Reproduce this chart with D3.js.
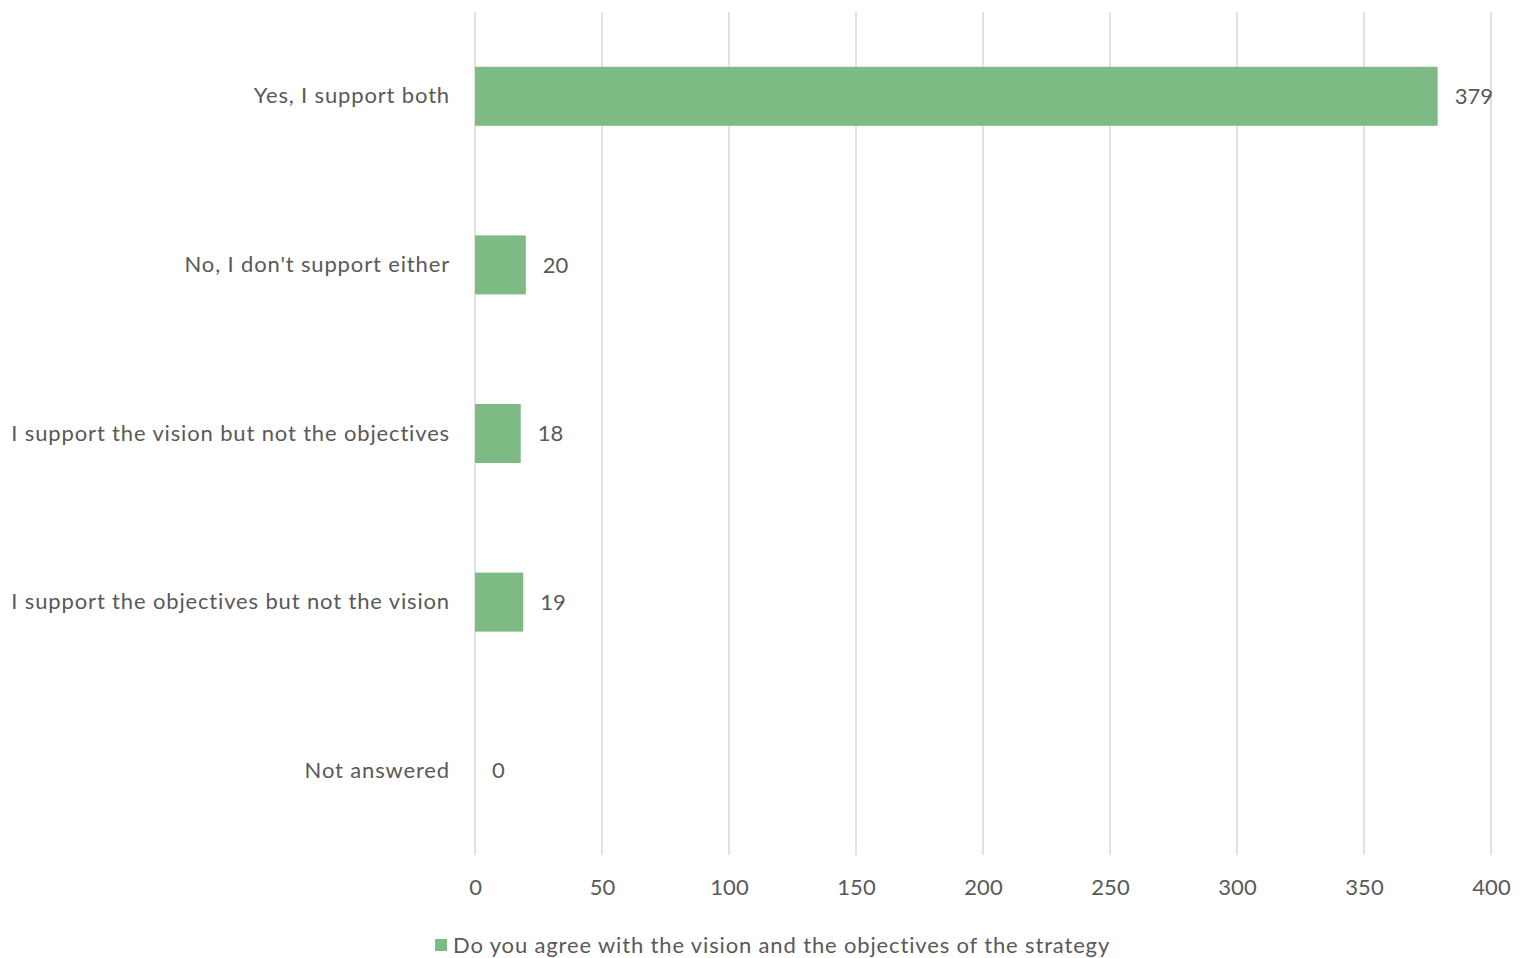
<!DOCTYPE html>
<html><head><meta charset="utf-8">
<script src="https://cdn.jsdelivr.net/npm/d3@7"></script>
<style>
body{margin:0;background:#fff;}
svg text{font-family:Lato, "Open Sans", sans-serif;fill:#595959;}
</style></head>
<body><svg id="c" width="1526" height="958"></svg>
<script>
const categories = ["Yes, I support both","No, I don't support either","I support the vision but not the objectives","I support the objectives but not the vision","Not answered"];
const values = [379, 20, 18, 19, 0];
const ticks = [0,50,100,150,200,250,300,350,400];
const seriesName = "Do you agree with the vision and the objectives of the strategy";

const svg = d3.select("#c");
const x = d3.scaleLinear().domain([0,400]).range([475,1491]);
const y = d3.scaleBand().domain(categories).range([12,855]).paddingInner(0.65).paddingOuter(0.325);
const barColor = "#7dba84";

// gridlines
svg.append("g").selectAll("line").data(ticks).join("line")
  .attr("x1",d=>x(d)).attr("x2",d=>x(d)).attr("y1",12).attr("y2",855)
  .attr("stroke","#d9d9d9").attr("stroke-width",1.5);

// x axis labels
const xa = svg.append("g").attr("transform","translate(0,855)")
  .call(d3.axisBottom(x).tickValues(ticks).tickSize(0).tickPadding(24));
xa.select(".domain").remove();
xa.selectAll("text").attr("font-size",22).attr("fill","#595959").style("font-family","Lato, 'Open Sans', sans-serif");

// y axis labels
const ya = svg.append("g").attr("transform","translate(475,0)")
  .call(d3.axisLeft(y).tickSize(0).tickPadding(25));
ya.select(".domain").remove();
ya.selectAll("text").attr("font-size",22).attr("fill","#595959").attr("letter-spacing","0.85px")
  .style("font-family","Lato, 'Open Sans', sans-serif");

// bars
svg.append("g").selectAll("rect").data(categories).join("rect")
  .attr("x",x(0)).attr("y",d=>y(d))
  .attr("width",(d,i)=>x(values[i])-x(0)).attr("height",y.bandwidth())
  .attr("fill",barColor);

// value labels
svg.append("g").selectAll("text").data(categories).join("text")
  .attr("x",(d,i)=>x(values[i])+17).attr("y",d=>y(d)+y.bandwidth()/2)
  .attr("dy","0.35em").attr("font-size",22)
  .text((d,i)=>values[i]);

// legend
const lg = svg.append("g");
lg.append("rect").attr("x",435).attr("y",939).attr("width",12).attr("height",12).attr("fill",barColor);
lg.append("text").attr("x",453).attr("y",945).attr("dy","0.35em").attr("font-size",22).attr("letter-spacing","0.85px").text(seriesName);
</script></body></html>
